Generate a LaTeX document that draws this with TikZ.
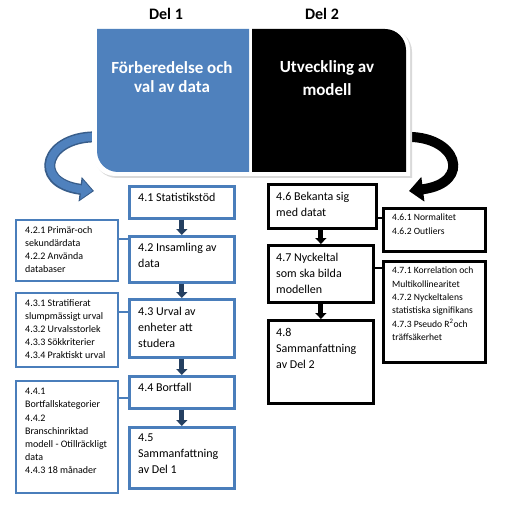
\documentclass[tikz,border=0pt]{standalone}
\usepackage{fontspec}
\setmainfont{Carlito}
\usetikzlibrary{arrows.meta}
\definecolor{accblue}{HTML}{4F81BD}
\definecolor{boxblue}{HTML}{4A7EBB}
\definecolor{arrblue}{HTML}{385D8A}
\definecolor{navyarr}{HTML}{254061}
\begin{document}
\begin{tikzpicture}[x=1pt,y=-1pt,
  mainbox/.style={draw=boxblue, line width=2.6pt, fill=white, inner sep=0pt, anchor=north west},
  sidebox/.style={draw=boxblue, line width=2.4pt, fill=white, inner sep=0pt, anchor=north west},
  rmainbox/.style={draw=black, line width=2.8pt, fill=white, inner sep=0pt, anchor=north west},
  rsidebox/.style={draw=black, line width=2.6pt, fill=white, inner sep=0pt, anchor=north west},
  maintext/.style={font=\fontsize{12}{16}\selectfont, align=left, inner sep=0pt, anchor=north west},
  sidetext/.style={font=\fontsize{10}{13.2}\selectfont, align=left, inner sep=0pt, anchor=north west},
  rsidetext/.style={font=\fontsize{9.6}{13.3}\selectfont, align=left, inner sep=0pt, anchor=north west},
  flowarr/.style={navyarr, line width=5pt, -{Triangle[width=11pt,length=6pt]}},
  rflowarr/.style={black, line width=5pt, -{Triangle[width=11pt,length=6pt]}},
  lconn/.style={boxblue, line width=1.3pt},
  rconn/.style={black, line width=1.3pt},
  headtext/.style={font=\fontsize{16}{19}\bfseries\selectfont},
  bigtext/.style={font=\fontsize{17}{18.3}\bfseries\selectfont, text=white, align=center}
]
\useasboundingbox (0,0) rectangle (519,505);
\fill[white] (0,0) rectangle (519,505);

% curved arrows (behind the frame)
\draw[arrblue, line width=11pt, -{Triangle[width=24pt,length=14pt]}]
  (100,137) .. controls (45,134) and (30,183) .. (94,191);
\draw[accblue, line width=8pt, shorten >=1.6pt, -{Triangle[width=19pt,length=11pt]}]
  (100,137) .. controls (45,134) and (30,183) .. (94,191);
\draw[black, line width=10pt, -{Triangle[width=24pt,length=14pt]}]
  (403,137) .. controls (458,134) and (473,183) .. (409,191);

% frame with shadow
\fill[gray!30] (94,29) -- (389,29) .. controls (401.7,29) and (412,39.3) .. (412,52) -- (412,178) -- (117,178) .. controls (104.3,178) and (94,167.7) .. (94,155) -- cycle;
\fill[white] (92,27) -- (387,27) .. controls (399.7,27) and (410,37.3) .. (410,50) -- (410,176) -- (115,176) .. controls (102.3,176) and (92,165.7) .. (92,153) -- cycle;
\fill[accblue] (97,29) -- (249,29) -- (249,172) -- (118,172) .. controls (106.4,172) and (97,162.6) .. (97,151) -- cycle;
\fill[black] (252,29) -- (385,29) .. controls (396.6,29) and (406,38.4) .. (406,50) -- (406,172) -- (252,172) -- cycle;

\node[headtext] (del1) at (166,14) {Del 1};
\node[headtext] (del2) at (322,14) {Del 2};
\node[bigtext] (t1) at (172,77) {Förberedelse och\\val av data};
\node[bigtext, font=\fontsize{17}{23}\bfseries\selectfont] (t2) at (327,78.5) {Utveckling av\\modell};

% left column
\node[mainbox, minimum width=105pt, minimum height=32pt] (b41) at (128,185) {};
\node[mainbox, minimum width=105pt, minimum height=46pt] (b42) at (128,235) {};
\node[mainbox, minimum width=105pt, minimum height=58pt] (b43) at (128,298) {};
\node[mainbox, minimum width=105pt, minimum height=32pt] (b44) at (128,375) {};
\node[mainbox, minimum width=105pt, minimum height=61pt] (b45) at (128,426) {};
\node[maintext] (x41) at ([shift={(10,8)}]b41.north west) {4.1 Statistikstöd};
\node[maintext] (x42) at ([shift={(10,8)}]b42.north west) {4.2 Insamling av\\data};
\node[maintext] (x43) at ([shift={(10,9)}]b43.north west) {4.3 Urval av\\enheter att\\studera};
\node[maintext] (x44) at ([shift={(10,8)}]b44.north west) {4.4 Bortfall};
\node[maintext] (x45) at ([shift={(10,8)}]b45.north west) {4.5\\Sammanfattning\\av Del 1};

\node[sidebox, minimum width=102pt, minimum height=61pt] (s42) at (15,219) {};
\node[sidebox, minimum width=102pt, minimum height=74pt] (s43) at (15,292) {};
\node[sidebox, minimum width=102pt, minimum height=112pt] (s44) at (15,380) {};
\node[sidetext] (y42) at ([shift={(10,7)}]s42.north west) {4.2.1 Primär-och\\sekundärdata\\4.2.2 Använda\\databaser};
\node[sidetext] (y43) at ([shift={(10,7)}]s43.north west) {4.3.1 Stratifierat\\slumpmässigt urval\\4.3.2 Urvalsstorlek\\4.3.3 Sökkriterier\\4.3.4 Praktiskt urval};
\node[sidetext] (y44) at ([shift={(10,8)}]s44.north west) {4.4.1\\Bortfallskategorier\\4.4.2\\Branschinriktad\\modell - Otillräckligt\\data\\4.4.3 18 månader};

\draw[flowarr] (b41.south) -- (b42.north);
\draw[flowarr] (b42.south) -- (b43.north);
\draw[flowarr] (b43.south) -- (b44.north);
\draw[flowarr] (b44.south) -- (b45.north);

\draw[lconn] (s42.east |- 0,239) -- (b42.west |- 0,239);
\draw[lconn] (s43.east |- 0,312) -- (b43.west |- 0,312);
\draw[lconn] (s44.east |- 0,398) -- (b44.west |- 0,398);

% right column
\node[rmainbox, minimum width=108pt, minimum height=44pt] (b46) at (267,183) {};
\node[rmainbox, minimum width=105pt, minimum height=57pt] (b47) at (267,244) {};
\node[rmainbox, minimum width=105pt, minimum height=83pt] (b48) at (267,319) {};
\node[maintext] (x46) at ([shift={(9,9)}]b46.north west) {4.6 Bekanta sig\\med datat};
\node[maintext] (x47) at ([shift={(9,9)}]b47.north west) {4.7 Nyckeltal\\som ska bilda\\modellen};
\node[maintext] (x48) at ([shift={(9,9)}]b48.north west) {4.8\\Sammanfattning\\av Del 2};

\node[rsidebox, minimum width=102pt, minimum height=43pt] (s46) at (382,207) {};
\node[rsidebox, minimum width=102pt, minimum height=101pt] (s47) at (382,260) {};
\node[rsidetext] (y46) at ([shift={(10,7)}]s46.north west) {4.6.1 Normalitet\\4.6.2 Outliers};
\node[rsidetext] (y47) at ([shift={(10,7)}]s47.north west) {4.7.1 Korrelation och\\Multikollinearitet\\4.7.2 Nyckeltalens\\statistiska signifikans\\4.7.3 Pseudo R\textsuperscript{2}och\\träffsäkerhet};

\draw[rflowarr] (b46.south -| b47.south) -- (b47.north);
\draw[rflowarr] (b47.south) -- (b48.north);

\draw[rconn] (b46.east |- 0,218) -- (s46.west |- 0,218);
\draw[rconn] (b47.east |- 0,268) -- (s47.west |- 0,268);
\end{tikzpicture}
\end{document}
